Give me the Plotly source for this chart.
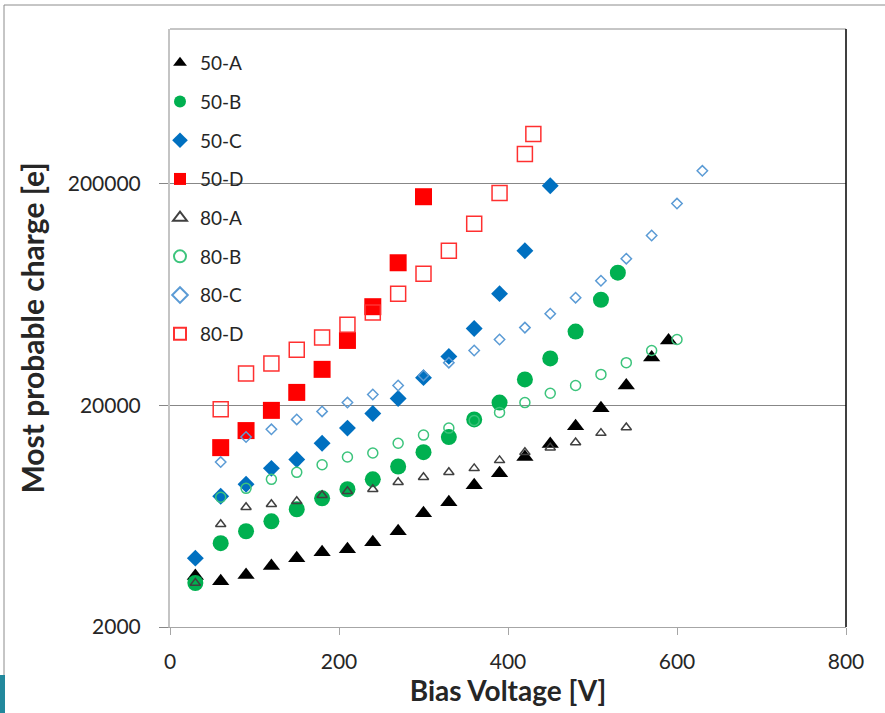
import plotly.graph_objects as go

# Bias voltage [V] and most probable charge [e] for each sensor
v_50A = [30, 60, 90, 120, 150, 180, 210, 240, 270, 300, 330, 360, 390, 420, 450, 480, 510, 540, 570, 590]
q_50A = [3400, 3220, 3430, 3770, 4090, 4350, 4490, 4830, 5410, 6520, 7310, 8720, 9880, 11700, 13400,
         16100, 19400, 24600, 32900, 39300]

v_50B = [30, 60, 90, 120, 150, 180, 210, 240, 270, 300, 330, 360, 390, 420, 450, 480, 510, 530]
q_50B = [3160, 4780, 5410, 6000, 6800, 7620, 8370, 9280, 10600, 12300, 14400, 17300, 20600, 26200,
         32600, 43100, 60000, 79500]

v_50C = [30, 60, 90, 120, 150, 180, 210, 240, 270, 300, 330, 360, 390, 420, 450]
q_50C = [4090, 7780, 8810, 10400, 11400, 13500, 15800, 18400, 21500, 26700, 33300, 44500, 63900,
         99800, 196000]

v_50D = [60, 90, 120, 150, 180, 210, 240, 270, 300]
q_50D = [12900, 15400, 19000, 22900, 29100, 39300, 55800, 88100, 175000]

v_80A = [30, 60, 90, 120, 150, 180, 210, 240, 270, 300, 330, 360, 390, 420, 450, 480, 510, 540]
q_80A = [3160, 5820, 6940, 7160, 7390, 7860, 8200, 8370, 9000, 9480, 9980, 10400, 11300, 12300,
         12900, 13600, 15000, 15900]

v_80B = [60, 90, 120, 150, 180, 210, 240, 270, 300, 330, 360, 390, 420, 450, 480, 510, 540, 570, 600]
q_80B = [7700, 8450, 9280, 9980, 10800, 11700, 12200, 13500, 14700, 15800, 17100, 18600, 20600,
         22700, 24600, 27600, 31200, 35400, 39700]

v_80C = [60, 90, 120, 150, 180, 210, 240, 270, 300, 330, 360, 390, 420, 450, 480, 510, 540, 570,
         600, 630]
q_80C = [11100, 14400, 15600, 17300, 18800, 20600, 22400, 24600, 27300, 31200, 35400, 39700, 44900,
         51900, 61300, 73100, 91900, 117000, 163000, 229000]

v_80D = [60, 90, 120, 150, 180, 210, 240, 270, 300, 330, 360, 390, 420, 430]
q_80D = [19200, 27900, 30900, 35700, 40500, 46300, 52500, 63900, 78600, 99800, 132000, 182000,
         273000, 336000]

x_ticks = [0, 200, 400, 600, 800]
y_ticks = [2000, 20000, 200000]
y_tick_text = ["2000", "20000", "200000"]

FONT = "Lato"

series = [
    ("50-A", v_50A, q_50A, dict(symbol="triangle-up", size=15, color="#000000")),
    ("50-B", v_50B, q_50B, dict(symbol="circle", size=16, color="#00b050")),
    ("50-C", v_50C, q_50C, dict(symbol="diamond", size=13, color="#0070c0")),
    ("50-D", v_50D, q_50D, dict(symbol="square", size=17, color="#ff0000")),
    ("80-A", v_80A, q_80A, dict(symbol="triangle-up-open", size=9, color="#404040",
                                line=dict(width=1.5, color="#404040"))),
    ("80-B", v_80B, q_80B, dict(symbol="circle-open", size=10, color="#3cc47c",
                                line=dict(width=1.5, color="#3cc47c"))),
    ("80-C", v_80C, q_80C, dict(symbol="diamond-open", size=8, color="#5b9bd5",
                                line=dict(width=1.5, color="#5b9bd5"))),
    ("80-D", v_80D, q_80D, dict(symbol="square-open", size=15, color="#ff3030",
                                line=dict(width=1.5, color="#ff3030"))),
]

fig = go.Figure()
for name, xs, ys, marker in series:
    fig.add_trace(go.Scatter(x=xs, y=ys, mode="markers", name=name, marker=marker,
                             legendgroup=name))

W, H = 885, 713
L, R, T, B = 170, 39, 29, 86
pw, ph = W - L - R, H - T - B


def px(x):
    return (x - L) / pw


def py(y):
    return (H - B - y) / ph


shapes = [
    # slide frame around the chart
    dict(type="line", xref="paper", yref="paper", x0=px(4), x1=px(4), y0=py(5), y1=py(740),
         line=dict(color="#8c8c8c", width=1)),
    dict(type="line", xref="paper", yref="paper", x0=px(4), x1=px(900), y0=py(5), y1=py(5),
         line=dict(color="#8c8c8c", width=1)),
    dict(type="rect", xref="paper", yref="paper", x0=px(0), x1=px(5), y0=py(675), y1=py(713),
         line=dict(width=0), fillcolor="#22889c"),
    # plot-area border
    dict(type="line", xref="paper", yref="paper", x0=0, x1=1, y0=1, y1=1,
         line=dict(color="#8c8c8c", width=1)),
    dict(type="line", xref="paper", yref="paper", x0=1, x1=1, y0=0, y1=1,
         line=dict(color="#000000", width=1.5)),
]

fig.update_layout(
    width=W, height=H,
    margin=dict(l=L, r=R, t=T, b=B, pad=0),
    paper_bgcolor="white", plot_bgcolor="white",
    font=dict(family=FONT, color="#262626"),
    showlegend=True,
    legend=dict(x=px(160), y=py(44), xanchor="left", yanchor="top",
                font=dict(family=FONT, size=19, color="#262626"),
                bgcolor="rgba(0,0,0,0)", tracegroupgap=11, itemsizing="constant",
                itemwidth=30),
    shapes=shapes,
)

fig.update_xaxes(
    range=[0, 800], tickvals=x_ticks, showgrid=False, zeroline=False,
    showline=True, linecolor="#a6a6a6", linewidth=1,
    ticks="outside", ticklen=7, tickcolor="#a6a6a6", ticklabelstandoff=9,
    tickfont=dict(family=FONT, size=21, color="#262626"),
    title=dict(text="<b>Bias Voltage [V]</b>", font=dict(family=FONT, size=28, color="#262626"),
               standoff=7),
)

fig.update_yaxes(
    type="log", range=[3.30103, 6.0], tickvals=y_ticks, ticktext=y_tick_text,
    showgrid=True, gridcolor="#878787", gridwidth=1, zeroline=False,
    showline=True, linecolor="#c4c4c4", linewidth=2,
    ticks="outside", ticklen=9, tickcolor="#878787", ticklabelstandoff=14,
    tickfont=dict(family=FONT, size=21, color="#262626"),
    title=dict(text="<b>Most probable charge [e]</b>", font=dict(family=FONT, size=30, color="#262626"),
               standoff=14),
)

fig.write_html("out.html")
